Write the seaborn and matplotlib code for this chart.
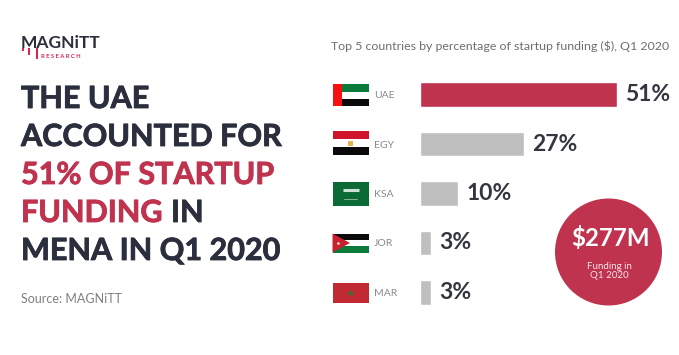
import numpy as np
import pandas as pd
import seaborn as sns
import matplotlib.pyplot as plt
import matplotlib.patheffects as pe
from matplotlib.patches import Rectangle, Polygon, Circle

countries = ['UAE', 'EGY', 'KSA', 'JOR', 'MAR']
shares = [51, 27, 10, 3, 3]
bar_colors = ['#bf334f', '#bfbfbf', '#bfbfbf', '#bfbfbf', '#bfbfbf']

dark = '#2b2f3d'
red = '#bf334f'
W, H = 679, 355

sns.set_theme(style='white')
plt.rcParams['font.family'] = ['Lato', 'DejaVu Sans']

fig = plt.figure(figsize=(W / 100, H / 100), dpi=100)
fig.patch.set_facecolor('white')

# overlay in pixel coordinates, y going down like the picture
bg = fig.add_axes([0, 0, 1, 1], zorder=0)
bg.set_xlim(0, W)
bg.set_ylim(H, 0)
bg.axis('off')

# bars
ax = fig.add_axes([419.5 / W, 1 - 317 / H, 197.5 / W, 247 / H], zorder=1)
ax.patch.set_alpha(0)
df = pd.DataFrame({'country': countries, 'share': shares})
sns.barplot(data=df, x='share', y='country', hue='country', palette=bar_colors,
            legend=False, width=0.5, saturation=1, ax=ax)
ax.set_xlim(0, 51)
ax.set_xlabel('')
ax.set_ylabel('')
ax.set_xticks([])
sns.despine(ax=ax, left=True, bottom=True)
ax.tick_params(axis='y', length=0, pad=33)
for t in ax.get_yticklabels():
    t.set_ha('left')
    t.set_fontsize(7.5)
    t.set_color('#8a8a8a')
for c, v in zip(ax.containers, shares):
    ax.bar_label(c, labels=[f'{v}%'], padding=6, fontsize=16.5, fontweight='bold',
                 color='#33363f', clip_on=False)


def rect(x, y, w, h, col):
    bg.add_patch(Rectangle((x, y), w, h, facecolor=col, edgecolor='none'))


# flags
rect(332.5, 84, 36, 7.5, '#0b7a3b')
rect(332.5, 91.5, 36, 7, '#ffffff')
rect(332.5, 98.5, 36, 7, '#0a0a0a')
rect(332.5, 84, 9, 21.5, '#f80f0f')

rect(332.5, 131, 36, 8, '#d0142c')
rect(332.5, 139, 36, 8, '#ffffff')
rect(332.5, 147, 36, 8, '#0a0a0a')
rect(348, 141, 5, 5, '#e2b44c')

rect(332.5, 182, 36, 24, '#0c6b35')
bg.plot([343, 359], [190, 190], color='white', lw=2.2, alpha=0.8, solid_capstyle='butt')
bg.plot([344, 357], [199, 199], color='white', lw=0.5, alpha=0.7)

rect(332.5, 233.5, 36, 6.5, '#0a0a0a')
rect(332.5, 240, 36, 6, '#ffffff')
rect(332.5, 246, 36, 6.5, '#0b7a3b')
bg.add_patch(Polygon([[332.5, 233.5], [350, 243], [332.5, 252.5]], facecolor='#c8202f', edgecolor='none'))
bg.plot([338], [243], marker='*', ms=3, color='white', mew=0)

rect(332.5, 283, 36, 20, '#c22a33')
bg.plot([350.5], [293], marker='*', ms=6, color='#3c6b35', mew=0)

# left text block
bg.text(21, 47.5, 'MAGNiTT', fontsize=12.5, fontweight='bold', color=dark, va='baseline')
bg.text(41, 58, 'R E S E A R C H', fontsize=4.2, fontweight='bold', color='#e0234e', va='baseline')
rect(22, 48, 2, 3, '#e0234e')
rect(28, 48, 2, 7, '#e0234e')
rect(36, 48, 2, 11, '#e0234e')

head_size = 22
heavy = [pe.withStroke(linewidth=0.6, foreground=dark)]
heavy_red = [pe.withStroke(linewidth=0.6, foreground=red)]
bg.text(21, 108, 'THE UAE', fontsize=head_size, fontweight='bold', color=dark, path_effects=heavy)
bg.text(21, 146, 'ACCOUNTED FOR', fontsize=head_size, fontweight='bold', color=dark, path_effects=heavy)
bg.text(21, 184, '51% OF STARTUP', fontsize=head_size, fontweight='bold', color=red, path_effects=heavy_red)
bg.text(21, 222, 'FUNDING', fontsize=head_size, fontweight='bold', color=red, path_effects=heavy_red)
bg.text(171, 222, 'IN', fontsize=head_size, fontweight='bold', color=dark, path_effects=heavy)
bg.text(21, 260, 'MENA IN Q1 2020', fontsize=head_size, fontweight='bold', color=dark, path_effects=heavy)
bg.text(21, 303, 'Source: MAGNiTT', fontsize=9, color='#7f7f7f')

bg.text(669, 50, 'Top 5 countries by percentage of startup funding ($), Q1 2020',
        fontsize=8.9, color='#6e6e6e', ha='right')

# funding circle
circ = fig.add_axes([0, 0, 1, 1], zorder=2)
circ.set_xlim(0, W)
circ.set_ylim(H, 0)
circ.axis('off')
circ.add_patch(Circle((608.5, 252), 53.5, facecolor=red, edgecolor='none'))
circ.text(610.5, 246, '$277M', fontsize=17.3, fontweight='bold', color='white', ha='center')
circ.text(609, 269, 'Funding in', fontsize=7, color='#f6e3e7', ha='center')
circ.text(609, 278, 'Q1 2020', fontsize=7, color='#f6e3e7', ha='center')

fig.savefig('out.png', dpi=100)
